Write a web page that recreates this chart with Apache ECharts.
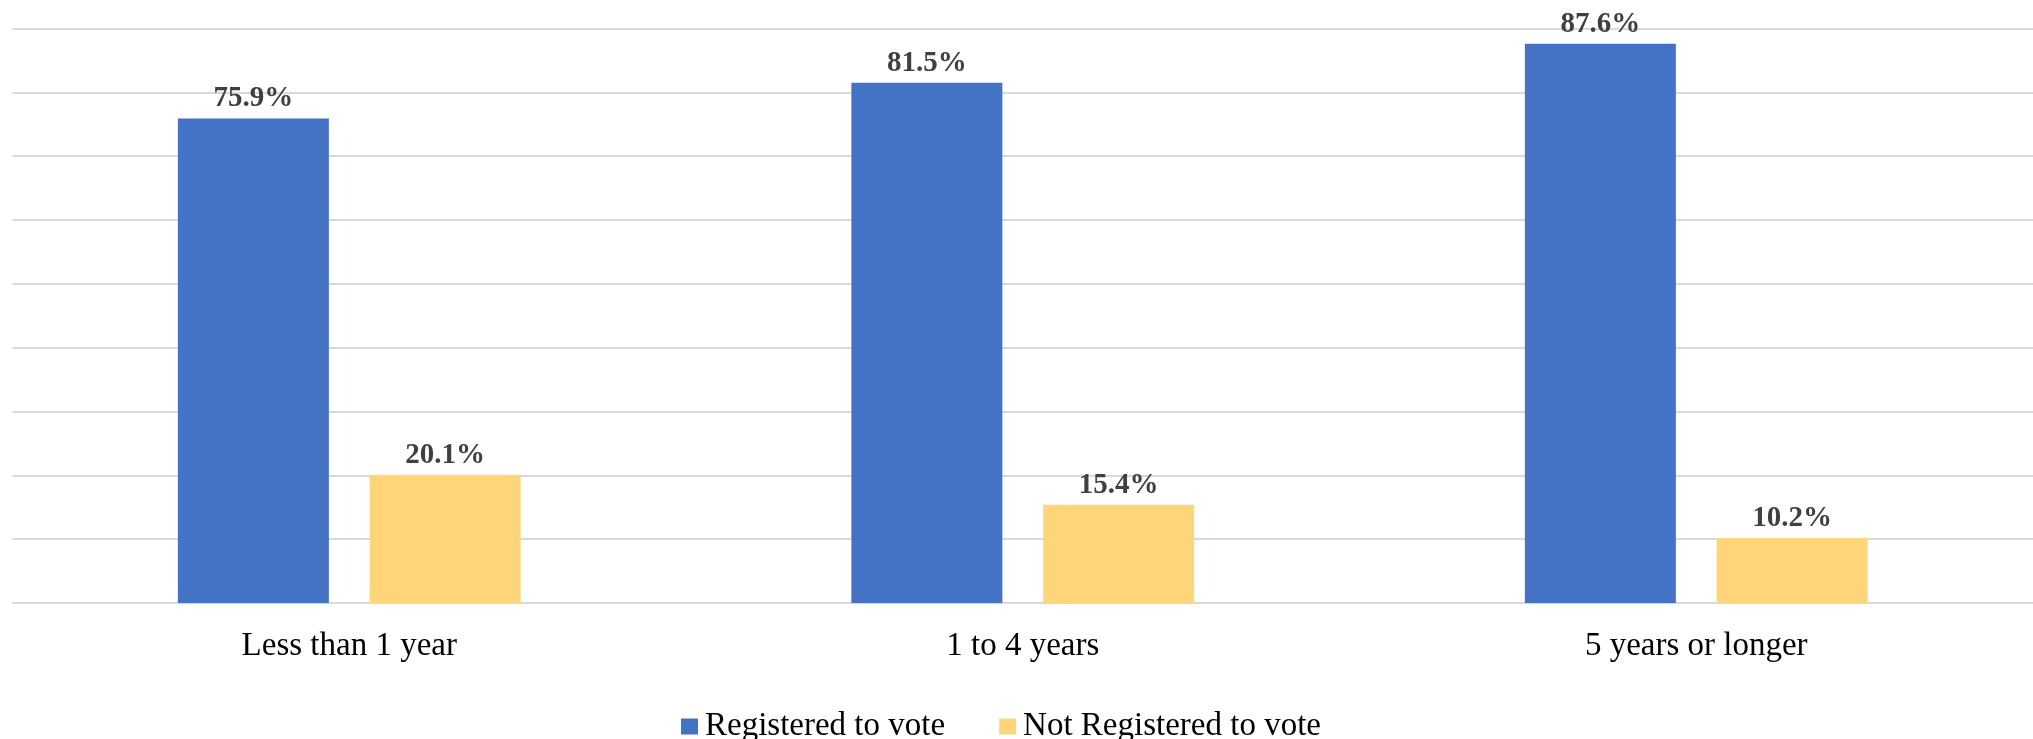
<!DOCTYPE html>
<html>
<head>
<meta charset="utf-8">
<script src="https://cdn.jsdelivr.net/npm/echarts@6/dist/echarts.min.js"></script>
<style>
html,body{margin:0;padding:0;background:#fff;}
#chart{width:2033px;height:739px;}
</style>
</head>
<body>
<div id="chart"></div>
<script>
const categories = ['Less than 1 year', '1 to 4 years', '5 years or longer'];
const registered = [75.9, 81.5, 87.6];
const notRegistered = [20.1, 15.4, 10.2];
const seriesNames = ['Registered to vote', 'Not Registered to vote'];

const chart = echarts.init(document.getElementById('chart'), null, {renderer: 'canvas'});
const FONT = 'Liberation Serif';
const labelCfg = {
  show: true,
  position: 'top',
  distance: 5,
  fontFamily: FONT,
  fontWeight: 'bold',
  fontSize: 29,
  color: '#404040',
  formatter: p => p.value.toFixed(1) + '%'
};
chart.setOption({
  animation: false,
  backgroundColor: '#ffffff',
  grid: {left: 12.5, right: -7, top: 28.5, bottom: 136, containLabel: false},
  legend: {
    left: 676,
    top: 705,
    itemWidth: 17,
    itemHeight: 16,
    itemGap: 54,
    icon: 'rect',
    textStyle: {fontFamily: FONT, fontSize: 33, color: '#000000', padding: [0, 0, 0, 2]},
    data: seriesNames
  },
  xAxis: {
    type: 'category',
    data: categories,
    axisLine: {show: true, lineStyle: {color: '#d9d9d9', width: 2}},
    axisTick: {show: false},
    axisLabel: {fontFamily: FONT, fontSize: 33, color: '#000000', margin: 27}
  },
  yAxis: {
    type: 'value',
    min: 0,
    max: 90,
    interval: 10,
    axisLine: {show: false},
    axisTick: {show: false},
    axisLabel: {show: false},
    splitLine: {show: true, lineStyle: {color: '#d9d9d9', width: 2}}
  },
  series: [
    {
      name: seriesNames[0],
      type: 'bar',
      data: registered,
      barWidth: 151,
      barGap: '27%',
      itemStyle: {color: '#4472C4'},
      label: labelCfg
    },
    {
      name: seriesNames[1],
      type: 'bar',
      data: notRegistered,
      barWidth: 151,
      barGap: '27%',
      itemStyle: {color: '#FFD57A'},
      label: labelCfg
    }
  ]
});
</script>
</body>
</html>
